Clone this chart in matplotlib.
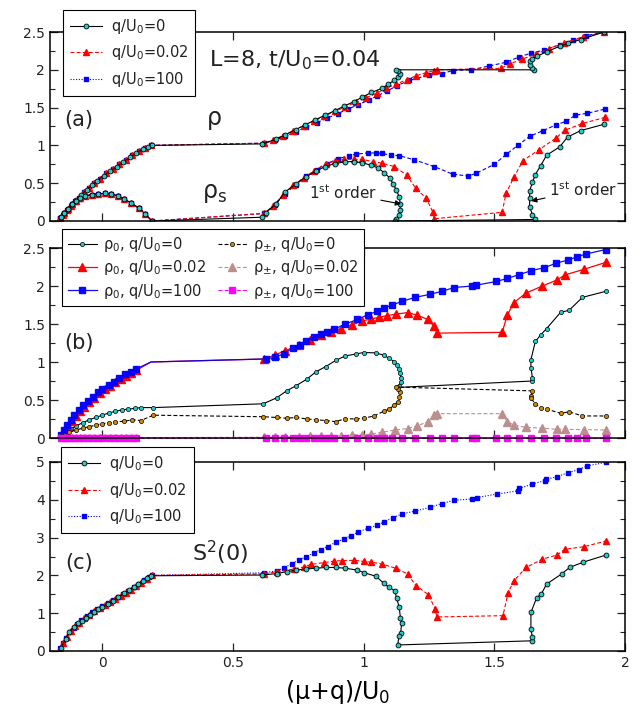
import matplotlib
matplotlib.use("Agg")
import matplotlib.pyplot as plt
from matplotlib.lines import Line2D
from matplotlib.ticker import MultipleLocator

plt.rcParams['font.family'] = ['DejaVu Sans']
plt.rcParams['mathtext.default'] = 'regular'
plt.rcParams['text.color'] = '#222222'

# ---------------- panel (a): rho and rho_s ----------------
# q/U0 = 0
xa_rho0 = [-0.158, -0.145, -0.13, -0.115, -0.10, -0.08, -0.06, -0.04, -0.02, 0.005, 0.03, 0.055, 0.08, 0.105, 0.13, 0.155, 0.175, 0.19,
           0.612, 0.664, 0.70, 0.74, 0.776, 0.815, 0.853, 0.89, 0.925, 0.964, 0.995, 1.03, 1.07, 1.094, 1.117, 1.13, 1.138, 1.13, 1.123,
           1.652, 1.646, 1.635, 1.635, 1.645, 1.665, 1.70, 1.75, 1.78, 1.83, 1.92]
ya_rho0 = [0.05, 0.10, 0.16, 0.22, 0.28, 0.35, 0.41, 0.47, 0.53, 0.60, 0.66, 0.72, 0.78, 0.84, 0.90, 0.95, 0.98, 1.0,
           1.02, 1.08, 1.14, 1.21, 1.27, 1.34, 1.40, 1.46, 1.52, 1.58, 1.64, 1.70, 1.755, 1.81, 1.86, 1.90, 1.94, 1.98, 2.0,
           2.0, 2.03, 2.06, 2.11, 2.14, 2.18, 2.24, 2.31, 2.35, 2.40, 2.50]
# q/U0 = 0.02
xa_rho1 = [-0.16, -0.15, -0.135, -0.12, -0.105, -0.09, -0.07, -0.05, -0.03, -0.01, 0.015, 0.04, 0.065, 0.09, 0.115, 0.14, 0.165, 0.185,
           0.62, 0.655, 0.69, 0.73, 0.77, 0.81, 0.85, 0.89, 0.93, 0.97, 1.01, 1.05, 1.085, 1.125, 1.165, 1.20, 1.237, 1.27, 1.28,
           1.525, 1.56, 1.606, 1.66, 1.71, 1.767, 1.84, 1.92]
ya_rho1 = [0.04, 0.08, 0.14, 0.20, 0.26, 0.31, 0.38, 0.44, 0.50, 0.56, 0.63, 0.69, 0.75, 0.81, 0.87, 0.92, 0.97, 1.0,
           1.03, 1.07, 1.13, 1.19, 1.26, 1.32, 1.39, 1.45, 1.51, 1.57, 1.63, 1.69, 1.755, 1.81, 1.87, 1.92, 1.96, 1.99, 2.0,
           2.02, 2.08, 2.14, 2.21, 2.28, 2.36, 2.43, 2.50]
# q/U0 = 100
xa_rho2 = [-0.16, -0.15, -0.135, -0.12, -0.105, -0.09, -0.07, -0.05, -0.03, -0.01, 0.015, 0.04, 0.065, 0.09, 0.115, 0.14, 0.165, 0.185,
           0.62, 0.66, 0.70, 0.74, 0.78, 0.82, 0.86, 0.90, 0.94, 0.98, 1.02, 1.05, 1.09, 1.128, 1.175, 1.25, 1.30, 1.34, 1.41, 1.48,
           1.545, 1.595, 1.64, 1.69, 1.75, 1.80, 1.85, 1.92]
ya_rho2 = [0.04, 0.08, 0.14, 0.20, 0.26, 0.31, 0.38, 0.44, 0.50, 0.56, 0.63, 0.69, 0.75, 0.81, 0.87, 0.92, 0.97, 1.0,
           1.03, 1.07, 1.12, 1.18, 1.24, 1.30, 1.36, 1.42, 1.48, 1.54, 1.60, 1.65, 1.72, 1.79, 1.86, 1.93, 1.95, 1.99, 2.0, 2.05,
           2.10, 2.17, 2.22, 2.26, 2.33, 2.39, 2.45, 2.50]

xa_rs0 = [-0.158, -0.145, -0.13, -0.115, -0.10, -0.085, -0.065, -0.04, -0.015, 0.01, 0.035, 0.06, 0.085, 0.11, 0.14, 0.165, 0.19,
          0.612, 0.625, 0.664, 0.70, 0.74, 0.78, 0.817, 0.853, 0.89, 0.93, 0.964, 0.995, 1.027, 1.056, 1.078, 1.10, 1.113, 1.125,
          1.136, 1.14, 1.14, 1.136, 1.125, 1.12,
          1.656, 1.646, 1.635, 1.635, 1.635, 1.646, 1.656, 1.677, 1.70, 1.75, 1.78, 1.83, 1.92]
ya_rs0 = [0.05, 0.10, 0.16, 0.22, 0.27, 0.30, 0.33, 0.35, 0.36, 0.365, 0.36, 0.33, 0.29, 0.24, 0.17, 0.09, 0.0,
          0.05, 0.11, 0.225, 0.385, 0.49, 0.585, 0.66, 0.72, 0.76, 0.785, 0.785, 0.77, 0.74, 0.70, 0.64, 0.57, 0.49, 0.41,
          0.32, 0.23, 0.145, 0.08, 0.03, 0.0,
          0.02, 0.08, 0.19, 0.30, 0.40, 0.51, 0.61, 0.73, 0.87, 0.98, 1.11, 1.195, 1.28]
xa_rs1 = [-0.16, -0.145, -0.13, -0.115, -0.10, -0.085, -0.065, -0.04, -0.015, 0.01, 0.035, 0.06, 0.085, 0.11, 0.14, 0.165, 0.19,
          0.62, 0.655, 0.69, 0.73, 0.77, 0.81, 0.855, 0.89, 0.925, 0.964, 0.995, 1.034, 1.07, 1.117, 1.164, 1.20, 1.24, 1.265, 1.27,
          1.53, 1.545, 1.575, 1.61, 1.67, 1.737, 1.77, 1.837, 1.923]
ya_rs1 = [0.04, 0.10, 0.16, 0.22, 0.27, 0.30, 0.33, 0.35, 0.36, 0.365, 0.355, 0.33, 0.29, 0.24, 0.17, 0.09, 0.0,
          0.10, 0.20, 0.34, 0.47, 0.57, 0.66, 0.76, 0.79, 0.815, 0.815, 0.815, 0.785, 0.765, 0.72, 0.61, 0.43, 0.30, 0.115, 0.03,
          0.115, 0.37, 0.58, 0.80, 0.94, 1.10, 1.20, 1.29, 1.37]
xa_rs2 = [-0.16, -0.145, -0.13, -0.115, -0.10, -0.085, -0.065, -0.04, -0.015, 0.01, 0.035, 0.06, 0.085, 0.11, 0.14, 0.165, 0.19,
          0.62, 0.66, 0.70, 0.74, 0.78, 0.82, 0.86, 0.90, 0.944, 0.972, 1.018, 1.046, 1.07, 1.104, 1.136, 1.193, 1.27, 1.34, 1.40,
          1.43, 1.50, 1.545, 1.59, 1.635, 1.686, 1.735, 1.776, 1.81, 1.856, 1.923]
ya_rs2 = [0.04, 0.10, 0.16, 0.22, 0.27, 0.30, 0.33, 0.35, 0.36, 0.365, 0.355, 0.33, 0.29, 0.24, 0.17, 0.09, 0.0,
          0.10, 0.21, 0.36, 0.48, 0.59, 0.68, 0.76, 0.82, 0.865, 0.885, 0.90, 0.90, 0.895, 0.87, 0.865, 0.81, 0.72, 0.62, 0.595,
          0.63, 0.75, 0.88, 1.0, 1.12, 1.195, 1.27, 1.32, 1.40, 1.425, 1.48]

# ---------------- panel (b): rho_0 and rho_pm ----------------
xb_r00 = [-0.158, -0.14, -0.12, -0.10, -0.075, -0.05, -0.025, 0.0, 0.025, 0.05, 0.075, 0.10, 0.125, 0.15, 0.195,
          0.616, 0.668, 0.705, 0.74, 0.783, 0.817, 0.855, 0.893, 0.93, 0.97, 1.0, 1.046, 1.076, 1.097, 1.117, 1.128, 1.135,
          1.14, 1.142, 1.142, 1.136, 1.127,
          1.646, 1.646, 1.64, 1.64, 1.657, 1.677, 1.70, 1.754, 1.786, 1.837, 1.926]
yb_r00 = [0.03, 0.07, 0.12, 0.16, 0.20, 0.24, 0.27, 0.30, 0.33, 0.35, 0.37, 0.38, 0.39, 0.40, 0.40,
          0.45, 0.53, 0.62, 0.685, 0.775, 0.87, 0.94, 1.02, 1.08, 1.105, 1.125, 1.12, 1.09, 1.05, 1.005, 0.96, 0.91,
          0.85, 0.79, 0.74, 0.69, 0.665,
          0.75, 0.79, 0.925, 1.03, 1.27, 1.355, 1.44, 1.655, 1.68, 1.85, 1.93]
xb_rpm0 = [-0.158, -0.126, -0.10, -0.075, -0.05, -0.024, 0.0, 0.027, 0.05, 0.084, 0.115, 0.148, 0.195,
           0.616, 0.668, 0.705, 0.74, 0.785, 0.817, 0.855, 0.893, 0.93, 0.97, 1.0, 1.04, 1.076, 1.097, 1.117, 1.13, 1.136,
           1.138, 1.133, 1.123,
           1.646, 1.64, 1.642, 1.657, 1.677, 1.70, 1.754, 1.786, 1.837, 1.926]
yb_rpm0 = [0.02, 0.08, 0.105, 0.13, 0.15, 0.17, 0.19, 0.20, 0.215, 0.22, 0.24, 0.23, 0.30,
           0.28, 0.27, 0.26, 0.27, 0.25, 0.24, 0.23, 0.215, 0.255, 0.25, 0.26, 0.29, 0.35, 0.38, 0.43, 0.48, 0.54,
           0.61, 0.65, 0.67,
           0.62, 0.55, 0.52, 0.445, 0.40, 0.38, 0.325, 0.345, 0.29, 0.29]
xb_r01 = [-0.16, -0.145, -0.13, -0.115, -0.10, -0.085, -0.07, -0.05, -0.03, -0.01, 0.01, 0.03, 0.05, 0.07, 0.09, 0.11, 0.13, 0.186,
          0.62, 0.66, 0.70, 0.753, 0.795, 0.836, 0.875, 0.913, 0.955, 0.995, 1.027, 1.06, 1.09, 1.123, 1.168, 1.206, 1.245, 1.27, 1.28,
          1.53, 1.55, 1.575, 1.62, 1.684, 1.74, 1.77, 1.843, 1.926]
yb_r01 = [0.03, 0.09, 0.16, 0.23, 0.29, 0.35, 0.41, 0.47, 0.53, 0.59, 0.64, 0.69, 0.74, 0.78, 0.82, 0.86, 0.89, 1.0,
          1.04, 1.09, 1.15, 1.22, 1.29, 1.355, 1.40, 1.44, 1.49, 1.54, 1.565, 1.59, 1.61, 1.63, 1.65, 1.615, 1.56, 1.47, 1.38,
          1.39, 1.62, 1.78, 1.905, 2.0, 2.08, 2.145, 2.22, 2.31]
xb_r02 = [-0.158, -0.145, -0.134, -0.12, -0.107, -0.09, -0.075, -0.056, -0.037, -0.018, 0.0, 0.027, 0.046, 0.065, 0.088, 0.11, 0.128, 0.186,
          0.626, 0.66, 0.696, 0.728, 0.755, 0.78, 0.81, 0.835, 0.86, 0.887, 0.93, 0.976, 1.015, 1.053, 1.078, 1.11, 1.148, 1.197,
          1.253, 1.30, 1.346, 1.414, 1.43, 1.508, 1.55, 1.595, 1.64, 1.69, 1.737, 1.78, 1.817, 1.85, 1.926]
yb_r02 = [0.04, 0.105, 0.17, 0.24, 0.30, 0.37, 0.43, 0.49, 0.54, 0.60, 0.65, 0.70, 0.74, 0.785, 0.84, 0.875, 0.905, 1.0,
          1.04, 1.06, 1.11, 1.18, 1.22, 1.27, 1.33, 1.37, 1.40, 1.43, 1.50, 1.56, 1.62, 1.67, 1.71, 1.75, 1.80, 1.85,
          1.89, 1.93, 1.98, 2.0, 2.01, 2.06, 2.10, 2.15, 2.20, 2.24, 2.30, 2.34, 2.385, 2.42, 2.48]
xb_rpm1 = [-0.16, -0.145, -0.13, -0.115, -0.10, -0.085, -0.07, -0.05, -0.03, -0.01, 0.01, 0.03, 0.05, 0.07, 0.09, 0.11, 0.13, 0.186,
           0.62, 0.66, 0.70, 0.753, 0.795, 0.836, 0.875, 0.913, 0.955, 0.995, 1.027, 1.07, 1.12, 1.168, 1.206, 1.245, 1.27, 1.28,
           1.53, 1.55, 1.575, 1.62, 1.684, 1.74, 1.77, 1.843, 1.926]
yb_rpm1 = [0.005, 0.005, 0.005, 0.005, 0.005, 0.005, 0.005, 0.005, 0.005, 0.005, 0.005, 0.005, 0.005, 0.005, 0.005, 0.005, 0.005, 0.005,
           0.01, 0.01, 0.015, 0.015, 0.02, 0.02, 0.025, 0.03, 0.04, 0.045, 0.05, 0.075, 0.105, 0.125, 0.16, 0.215, 0.30, 0.32,
           0.32, 0.215, 0.17, 0.14, 0.13, 0.115, 0.115, 0.11, 0.105]
xb_rpm2 = [-0.158, -0.145, -0.134, -0.12, -0.107, -0.09, -0.075, -0.056, -0.037, -0.018, 0.0, 0.027, 0.046, 0.065, 0.088, 0.11, 0.128, 0.186,
           0.626, 0.66, 0.696, 0.728, 0.755, 0.78, 0.81, 0.835, 0.86, 0.887, 0.93, 0.976, 1.015, 1.053, 1.078, 1.11, 1.148, 1.197,
           1.253, 1.30, 1.346, 1.414, 1.43, 1.508, 1.55, 1.595, 1.64, 1.69, 1.737, 1.78, 1.817, 1.85, 1.926]
yb_rpm2 = [0.0, 0.0, 0.0, 0.0, 0.0, 0.0, 0.0, 0.0, 0.0, 0.0, 0.0, 0.0, 0.0, 0.0, 0.0, 0.0, 0.0, 0.0,
           0.0, 0.0, 0.0, 0.0, 0.0, 0.0, 0.0, 0.0, 0.0, 0.0, 0.0, 0.0, 0.0, 0.0, 0.0, 0.0, 0.0, 0.0,
           0.0, 0.0, 0.0, 0.0, 0.0, 0.0, 0.0, 0.0, 0.0, 0.0, 0.0, 0.0, 0.0, 0.0, 0.0]

# ---------------- panel (c): S^2(0) ----------------
xc0 = [-0.158, -0.14, -0.126, -0.11, -0.094, -0.078, -0.063, -0.046, -0.03, -0.015, 0.0, 0.02, 0.04, 0.062, 0.084, 0.103, 0.122,
       0.138, 0.154, 0.17, 0.186,
       0.613, 0.67, 0.705, 0.743, 0.78, 0.817, 0.855, 0.893, 0.93, 0.976, 1.0, 1.048, 1.077, 1.098, 1.12, 1.126, 1.136, 1.141,
       1.145, 1.142, 1.136, 1.13,
       1.646, 1.646, 1.64, 1.64, 1.662, 1.68, 1.70, 1.758, 1.788, 1.84, 1.928]
yc0 = [0.08, 0.33, 0.51, 0.63, 0.73, 0.80, 0.865, 0.95, 1.04, 1.10, 1.17, 1.25, 1.33, 1.43, 1.53, 1.62, 1.70,
       1.78, 1.86, 1.93, 1.99,
       2.01, 2.05, 2.10, 2.14, 2.17, 2.19, 2.21, 2.21, 2.19, 2.14, 2.075, 1.975, 1.79, 1.68, 1.59, 1.39, 1.17, 0.865,
       0.74, 0.48, 0.40, 0.16,
       0.27, 0.36, 0.58, 1.02, 1.41, 1.51, 1.77, 2.04, 2.21, 2.35, 2.54]
xc1 = [-0.16, -0.15, -0.135, -0.12, -0.105, -0.09, -0.07, -0.05, -0.03, -0.01, 0.01, 0.03, 0.05, 0.07, 0.09, 0.11, 0.13, 0.15, 0.17, 0.19,
       0.62, 0.67, 0.734, 0.77, 0.798, 0.85, 0.887, 0.917, 0.964, 1.0, 1.03, 1.07, 1.123, 1.168, 1.20, 1.248, 1.274, 1.28,
       1.533, 1.553, 1.575, 1.622, 1.684, 1.74, 1.77, 1.843, 1.928]
yc1 = [0.06, 0.20, 0.38, 0.53, 0.65, 0.75, 0.86, 0.96, 1.05, 1.13, 1.21, 1.29, 1.37, 1.45, 1.54, 1.62, 1.71, 1.80, 1.90, 2.0,
       2.04, 2.10, 2.17, 2.22, 2.29, 2.34, 2.38, 2.39, 2.40, 2.37, 2.35, 2.30, 2.19, 2.04, 1.73, 1.49, 1.11, 0.90,
       0.935, 1.545, 1.86, 2.21, 2.43, 2.54, 2.69, 2.76, 2.91]
xc2 = [-0.16, -0.15, -0.14, -0.125, -0.11, -0.095, -0.08, -0.06, -0.04, -0.02, 0.0, 0.02, 0.04, 0.06, 0.08, 0.10, 0.12, 0.14, 0.16, 0.18, 0.19,
       0.62, 0.667, 0.696, 0.725, 0.753, 0.78, 0.81, 0.835, 0.862, 0.893, 0.925, 0.95, 0.98, 1.018, 1.053, 1.078, 1.113, 1.148,
       1.197, 1.253, 1.30, 1.346, 1.414, 1.433, 1.51, 1.592, 1.595, 1.646, 1.694, 1.697, 1.74, 1.783, 1.824, 1.856, 1.928]
yc2 = [0.08, 0.20, 0.35, 0.50, 0.62, 0.72, 0.81, 0.92, 1.02, 1.10, 1.18, 1.26, 1.34, 1.43, 1.51, 1.60, 1.69, 1.78, 1.87, 1.96, 2.0,
       2.07, 2.12, 2.20, 2.31, 2.41, 2.49, 2.60, 2.68, 2.76, 2.88, 2.96, 3.05, 3.15, 3.25, 3.33, 3.42, 3.53, 3.63,
       3.70, 3.80, 3.90, 3.99, 4.02, 4.06, 4.15, 4.24, 4.30, 4.42, 4.51, 4.54, 4.61, 4.72, 4.80, 4.90, 4.99]

CYAN = '#22cccc'
ORANGE = '#d68a00'

fig = plt.figure(figsize=(6.41, 7.15), dpi=100)
W, H = 641.0, 715.0
def rect(l, t, r, b):
    return [l / W, 1 - b / H, (r - l) / W, (b - t) / H]

axa = fig.add_axes(rect(50, 32, 625, 221))
axb = fig.add_axes(rect(50, 248, 625, 438))
axc = fig.add_axes(rect(50, 462, 625, 651))

for ax in (axa, axb, axc):
    ax.set_xlim(-0.2, 2.0)
    ax.xaxis.set_major_locator(MultipleLocator(0.5))
    ax.tick_params(which='both', direction='in', top=True, right=True, labelsize=10, colors='#222222')
    ax.tick_params(which='major', length=6, width=0.9)
    ax.tick_params(which='minor', length=3.5, width=0.8)
    for s in ax.spines.values():
        s.set_linewidth(1.1)
axa.tick_params(labelbottom=False)
axb.tick_params(labelbottom=False)


def skip_gap(xs):
    # no marker on the point that closes the line at the start of the plateau
    return [i for i in range(len(xs)) if i != 17]


# panel (a)
axa.set_ylim(0, 2.5)
axa.yaxis.set_major_locator(MultipleLocator(0.5))
axa.yaxis.set_minor_locator(MultipleLocator(0.25))
for xs, ys in ((xa_rho2, ya_rho2), (xa_rs2, ya_rs2)):
    axa.plot(xs, ys, color='blue', ls=(0, (3.5, 2)), lw=0.8, marker='s', ms=3.5, mec='blue', mfc='blue')
for xs, ys in ((xa_rho1, ya_rho1), (xa_rs1, ya_rs1)):
    axa.plot(xs, ys, color='red', ls=(0, (3.5, 2)), lw=0.8, marker='^', ms=4.5, mec='red', mfc='red')
for xs, ys in ((xa_rho0, ya_rho0), (xa_rs0, ya_rs0)):
    axa.plot(xs, ys, color='black', ls='-', lw=0.8, marker='o', ms=3.5, mec='black', mew=0.6, mfc=CYAN)
hA = [Line2D([], [], color='black', lw=0.8, marker='o', ms=3.5, mec='black', mew=0.6, mfc=CYAN),
      Line2D([], [], color='red', ls=(0, (3.5, 2)), lw=0.8, marker='^', ms=4.5, mec='red', mfc='red'),
      Line2D([], [], color='blue', ls=(0, (1, 1.5)), lw=0.8, marker='s', ms=3.5, mec='blue', mfc='blue')]
labA = ['q/U$_0$=0', 'q/U$_0$=0.02', 'q/U$_0$=100']
leg = axa.legend(hA, labA, loc='upper left', bbox_to_anchor=(0.022, 1.117), borderaxespad=0, fontsize=10.5,
                 fancybox=False, edgecolor='black', framealpha=1, handlelength=2.2, handletextpad=0.6,
                 labelspacing=0.5, borderpad=0.5)
leg.get_frame().set_linewidth(0.8)
axa.text(0.735, 2.13, 'L=8, t/U$_0$=0.04', fontsize=16, ha='center', va='center')
axa.text(-0.09, 1.34, '(a)', fontsize=15, ha='center', va='center')
axa.text(0.43, 1.36, 'ρ', fontsize=17, ha='center', va='center')
axa.text(0.43, 0.37, 'ρ$_s$', fontsize=17, ha='center', va='center')
axa.annotate('1$^{st}$ order', xy=(1.143, 0.225), xytext=(1.05, 0.37), fontsize=11, ha='right', va='center',
             arrowprops=dict(arrowstyle='-|>', color='black', lw=0.8, shrinkA=1, shrinkB=0, mutation_scale=8))
axa.annotate('1$^{st}$ order', xy=(1.641, 0.265), xytext=(1.71, 0.41), fontsize=11, ha='left', va='center',
             arrowprops=dict(arrowstyle='-|>', color='black', lw=0.8, shrinkA=1, shrinkB=0, mutation_scale=8))

# panel (b)
axb.set_ylim(0, 2.5)
axb.yaxis.set_major_locator(MultipleLocator(0.5))
axb.yaxis.set_minor_locator(MultipleLocator(0.25))
l1, = axb.plot(xb_r00, yb_r00, color='black', lw=0.8, marker='o', ms=3, mec='black', mew=0.5, mfc=CYAN)
l2, = axb.plot(xb_r01, yb_r01, color='red', lw=0.9, marker='^', ms=6, mec='red', mfc='red', markevery=skip_gap(xb_r01))
l3, = axb.plot(xb_r02, yb_r02, color='blue', lw=0.9, marker='s', ms=4.8, mec='blue', mfc='blue', markevery=skip_gap(xb_r02),
               alpha=0.95)
l6, = axb.plot(xb_rpm2, yb_rpm2, color='magenta', ls=(0, (3.5, 2)), lw=0.8, marker='s', ms=4.2, mec='magenta', mfc='magenta',
               markevery=skip_gap(xb_rpm2), clip_on=False, zorder=2.5)
l5, = axb.plot(xb_rpm1, yb_rpm1, color='#bc8f8f', ls=(0, (3.5, 2)), lw=0.8, marker='^', ms=5.5, mec='#bc8f8f', mfc='#bc8f8f',
               markevery=skip_gap(xb_rpm1))
l4, = axb.plot(xb_rpm0, yb_rpm0, color='black', ls=(0, (3.5, 2)), lw=0.8, marker='o', ms=3, mec='black', mew=0.5, mfc=ORANGE)
labB = ['ρ$_0$, q/U$_0$=0', 'ρ$_0$, q/U$_0$=0.02', 'ρ$_0$, q/U$_0$=100',
        'ρ$_{\\pm}$, q/U$_0$=0', 'ρ$_{\\pm}$, q/U$_0$=0.02', 'ρ$_{\\pm}$, q/U$_0$=100']
legb = axb.legend([l1, l2, l3, l4, l5, l6], labB, ncol=2, loc='upper left', bbox_to_anchor=(0.021, 1.10),
                  borderaxespad=0, fontsize=10.5, fancybox=False, edgecolor='black', framealpha=1, handlelength=2.0,
                  handletextpad=0.4, labelspacing=0.3, borderpad=0.4, columnspacing=0.8)
legb.get_frame().set_linewidth(0.8)
axb.text(-0.09, 1.25, '(b)', fontsize=15, ha='center', va='center')

# panel (c)
axc.set_ylim(0, 5)
axc.yaxis.set_major_locator(MultipleLocator(1))
axc.yaxis.set_minor_locator(MultipleLocator(0.5))
c2, = axc.plot(xc2, yc2, color='blue', ls=(0, (1, 1.5)), lw=0.8, marker='s', ms=3.5, mec='blue', mfc='blue')
c1, = axc.plot(xc1, yc1, color='red', ls=(0, (3.5, 2)), lw=0.8, marker='^', ms=4.5, mec='red', mfc='red')
c0, = axc.plot(xc0, yc0, color='black', lw=0.8, marker='o', ms=3.5, mec='black', mew=0.6, mfc=CYAN)
legc = axc.legend([c0, c1, c2], labA, loc='upper left', bbox_to_anchor=(0.019, 1.079), borderaxespad=0, fontsize=10.5,
                  fancybox=False, edgecolor='black', framealpha=1, handlelength=2.2, handletextpad=0.6,
                  labelspacing=0.5, borderpad=0.5)
legc.get_frame().set_linewidth(0.8)
axc.text(-0.09, 2.33, '(c)', fontsize=15, ha='center', va='center')
axc.text(0.45, 2.6, 'S$^2$(0)', fontsize=16, ha='center', va='center')
axc.set_xticks([0, 0.5, 1, 1.5, 2])
axc.set_xticklabels(['0', '0.5', '1', '1.5', '2'])
axc.set_xlabel('(μ+q)/U$_0$', fontsize=17, labelpad=6)

for ax in (axa, axb):
    ax.set_yticks([0, 0.5, 1, 1.5, 2, 2.5])
    ax.set_yticklabels(['0', '0.5', '1', '1.5', '2', '2.5'])
axc.set_yticks([0, 1, 2, 3, 4, 5])
axc.set_yticklabels(['0', '1', '2', '3', '4', '5'])

fig.savefig('out.png', dpi=100)
